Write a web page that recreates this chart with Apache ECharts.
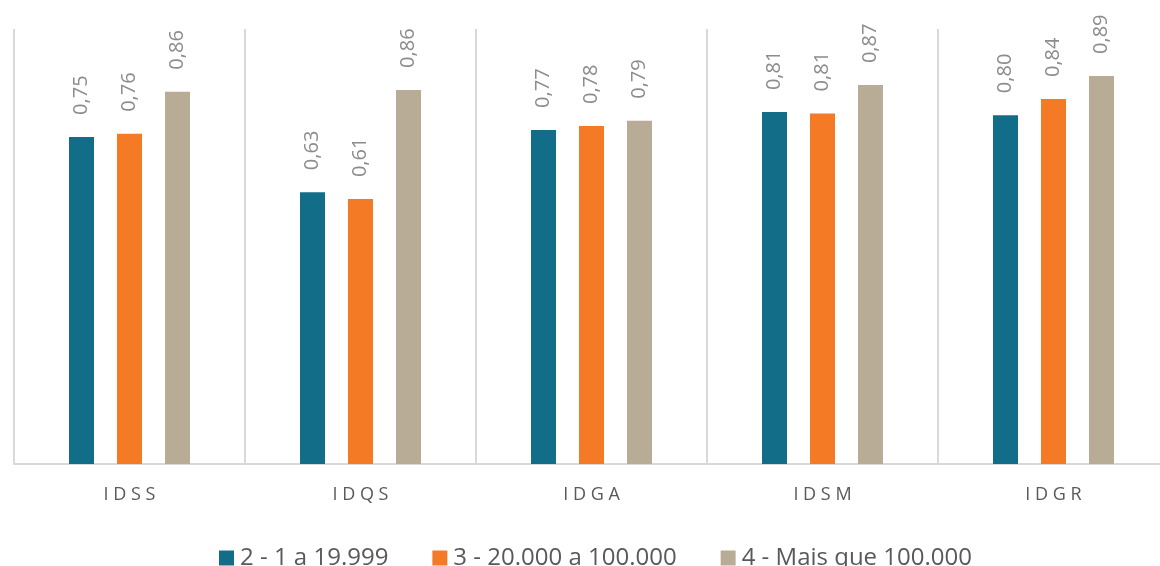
<!DOCTYPE html>
<html>
<head>
<meta charset="utf-8">
<script src="https://cdn.jsdelivr.net/npm/echarts@6/dist/echarts.min.js"></script>
<style>
html,body{margin:0;padding:0;background:#fff;}
#chart{width:1160px;height:566px;}
</style>
</head>
<body>
<div id="chart"></div>
<script>
var categories = ['IDSS', 'IDQS', 'IDGA', 'IDSM', 'IDGR'];
var seriesNames = ['2 - 1 a 19.999', '3 - 20.000 a 100.000', '4 - Mais que 100.000'];
var serie1 = [0.752, 0.625, 0.768, 0.809, 0.802];
var serie2 = [0.759, 0.609, 0.777, 0.806, 0.839];
var serie3 = [0.856, 0.860, 0.789, 0.871, 0.892];
var colors = ['#126e88', '#f47a25', '#b9ac97'];

var chart = echarts.init(document.getElementById('chart'), null, {renderer: 'canvas'});
var font = '"Open Sans", "Noto Sans", sans-serif';

function mk(name, data, color) {
  return {
    name: name,
    type: 'bar',
    data: data,
    barWidth: 25,
    barGap: '92%',
    itemStyle: {color: color},
    label: {
      show: true,
      position: 'top',
      rotate: 90,
      align: 'left',
      verticalAlign: 'middle',
      distance: 22,
      color: '#8c8c8c',
      fontSize: 20,
      fontFamily: font,
      formatter: function (p) { return p.value.toFixed(2).replace('.', ','); }
    }
  };
}

chart.setOption({
  animation: false,
  color: colors,
  grid: {left: 14, top: 29, width: 1155, height: 435, containLabel: false, outerBoundsMode: 'none'},
  legend: {
    top: 541,
    left: 214,
    itemWidth: 15,
    itemHeight: 15,
    itemGap: 44,
    icon: 'rect',
    textStyle: {color: '#595959', fontSize: 24, fontFamily: font, padding: [0, 0, 0, 1]}
  },
  xAxis: {
    type: 'category',
    data: categories,
    axisLine: {lineStyle: {color: '#d9d9d9', width: 2}},
    axisTick: {show: false},
    splitLine: {show: true, lineStyle: {color: '#d9d9d9', width: 2}},
    axisLabel: {
      color: '#595959',
      fontSize: 18,
      fontFamily: font,
      margin: 22,
      formatter: function (v) { return v.split('').join(' '); }
    }
  },
  yAxis: {
    type: 'value',
    min: 0,
    max: 1,
    show: false,
    splitLine: {show: false}
  },
  series: [
    mk(seriesNames[0], serie1, colors[0]),
    mk(seriesNames[1], serie2, colors[1]),
    mk(seriesNames[2], serie3, colors[2])
  ]
});
</script>
</body>
</html>
